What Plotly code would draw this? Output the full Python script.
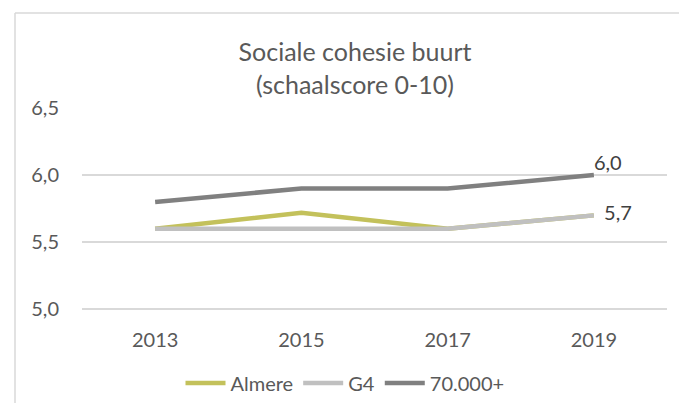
import plotly.graph_objects as go

years = ["2013", "2015", "2017", "2019"]
almere = [5.6, 5.72, 5.6, 5.7]
g4 = [5.6, 5.6, 5.6, 5.7]
grote = [5.8, 5.9, 5.9, 6.0]
y_ticks = [5.0, 5.5, 6.0, 6.5]

W, H = 679, 403
ml, mr, mt, mb = 82, 12, 108, 91
pw, ph = W - ml - mr, H - mt - mb

def px_x(p):
    return (p - ml) / pw

def px_y(p):
    return (H - mb - p) / ph

txt = "#595959"
font = "Lato"

def fmt(v):
    return f"{v:.1f}".replace(".", ",")

fig = go.Figure()
fig.add_trace(go.Scatter(x=years, y=almere, mode="lines", name="Almere",
                         line=dict(color="#C3C15B", width=4.5)))
fig.add_trace(go.Scatter(x=years, y=g4, mode="lines", name="G4",
                         line=dict(color="#C0C0C0", width=4.5)))
fig.add_trace(go.Scatter(x=years, y=grote, mode="lines", name="70.000+",
                         line=dict(color="#808080", width=4.5)))

# data labels on the last points
fig.add_trace(go.Scatter(x=[years[-1]], y=[grote[-1]], mode="text",
                         text=[fmt(grote[-1])], textposition="top right",
                         textfont=dict(size=20, color="#404040", family=font),
                         showlegend=False, hoverinfo="skip", cliponaxis=False))
fig.add_trace(go.Scatter(x=[years[-1]], y=[almere[-1]], mode="text",
                         text=["  " + fmt(almere[-1])], textposition="middle right",
                         textfont=dict(size=20, color="#404040", family=font),
                         showlegend=False, hoverinfo="skip", cliponaxis=False))

fig.add_shape(type="line", xref="paper", yref="paper",
              x0=px_x(15), x1=px_x(15), y0=px_y(13), y1=px_y(403),
              line=dict(color="#D9D9D9", width=1.5))
fig.add_shape(type="line", xref="paper", yref="paper",
              x0=px_x(15), x1=px_x(679), y0=px_y(13), y1=px_y(13),
              line=dict(color="#D9D9D9", width=1.5))

fig.update_layout(
    width=W, height=H, autosize=False,
    margin=dict(l=ml, r=mr, t=mt, b=mb, autoexpand=False),
    paper_bgcolor="white", plot_bgcolor="white",
    separators=",.",
    font=dict(family=font, color=txt, size=20),
    title=dict(text="Sociale cohesie buurt<br>(schaalscore 0-10)",
               x=px_x(355), xref="paper", xanchor="center",
               y=1 - 61 / H, yanchor="middle",
               font=dict(size=25, color=txt, family=font)),
    showlegend=True,
    legend=dict(orientation="h", x=px_x(345), xanchor="center", xref="paper",
                y=px_y(383), yanchor="middle", yref="paper",
                font=dict(size=20, color=txt, family=font),
                itemwidth=40, tracegroupgap=0, bgcolor="rgba(0,0,0,0)"),
    xaxis=dict(type="category", range=[-0.5, 3.5], showgrid=False, showline=False,
               zeroline=False, ticks="", tickfont=dict(size=20, color=txt),
               ticklabelstandoff=14),
    yaxis=dict(range=[4.98, 6.5], tickvals=y_ticks, tickformat=".1f",
               showgrid=True, gridcolor="#D9D9D9", gridwidth=1.5,
               zeroline=False, showline=False, ticks="",
               tickfont=dict(size=20, color=txt), ticklabelstandoff=22),
)

fig.write_html("out.html", config={"displayModeBar": False},
               post_script="document.body.style.margin='0';document.body.style.padding='0';")
